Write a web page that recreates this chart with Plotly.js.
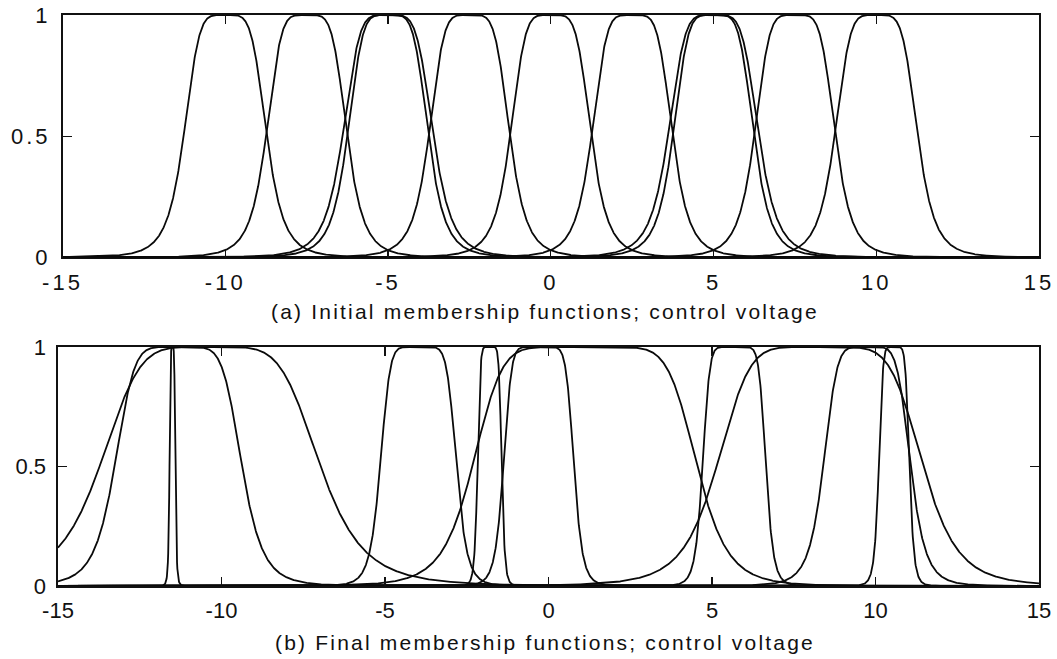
<!DOCTYPE html>
<html>
<head>
<meta charset="utf-8">
<script src="https://cdn.plot.ly/plotly-3.0.1.min.js"></script>
<style>
  html, body { margin: 0; padding: 0; background: #fff; }
  #chart { width: 1057px; height: 659px; }
  .xtick text, .ytick text { letter-spacing: 3px; }
  .annotation-text { letter-spacing: 2.2px; }
</style>
</head>
<body>
<div id="chart"></div>
<script>
// ---- data: generalized bell membership functions ----
// mu(x) = 1 / (1 + |(x - c) / a|^(2b))
const inputRange = [-15, 15];
const sampleCount = 3001;

// (a) initial membership functions
const initialCenters = [-10, -7.5, -5, -5, -2.5, 0, 2.5, 5, 5, 7.5, 10];
const initialWidths  = [1.28, 1.25, 1.25, 1.4, 1.25, 1.25, 1.25, 1.25, 1.4, 1.25, 1.28];
const initialSlopes  = [2.5, 2.5, 2.5, 2.5, 2.5, 2.5, 2.5, 2.5, 2.5, 2.5, 2.5];

// (b) final membership functions
const finalCenters = [-10.35, -11.32, -11.5, -3.98, -1.8, -0.3, 1.11, 5.68, 8.3, 9.74, 10.57];
const finalWidths  = [3.38, 1.95, 0.09, 1.17, 0.37, 1.08, 3.44, 0.97, 3.16, 1.34, 0.47];
const finalSlopes  = [2.6, 3.1, 2.5, 3.7, 4.0, 4.2, 3.7, 4.3, 3.0, 3.0, 3.5];

// axis ticks
const xTickValues = [-15, -10, -5, 0, 5, 10, 15];
const xTickLabels = ["-15", "-10", "-5", "0", "5", "10", "15"];
const yTickValues = [0, 0.5, 1];
const yTickLabels = ["0", "0.5", "1"];

const panelTitles = [
  "(a) Initial membership functions; control voltage",
  "(b) Final membership functions; control voltage"
];

// ---- build traces ----
const xs = [];
for (let i = 0; i < sampleCount; i++) {
  xs.push(inputRange[0] + (inputRange[1] - inputRange[0]) * i / (sampleCount - 1));
}
function gbell(c, a, b) {
  return xs.map(x => 1 / (1 + Math.pow(Math.abs((x - c) / a), 2 * b)));
}
const lineStyle = { color: '#0a0a0a', width: 1.8 };
const traces = [];
initialCenters.forEach((c, i) => {
  traces.push({ x: xs, y: gbell(c, initialWidths[i], initialSlopes[i]), type: 'scatter', mode: 'lines',
    line: lineStyle, xaxis: 'x', yaxis: 'y', hoverinfo: 'skip', showlegend: false });
});
finalCenters.forEach((c, i) => {
  traces.push({ x: xs, y: gbell(c, finalWidths[i], finalSlopes[i]), type: 'scatter', mode: 'lines',
    line: lineStyle, xaxis: 'x2', yaxis: 'y2', hoverinfo: 'skip', showlegend: false });
});

const tickFont = { family: 'Liberation Sans, Arial, sans-serif', size: 22, color: '#111' };
function xAxis(domain, anchor) {
  return {
    domain: domain, anchor: anchor, range: inputRange, tickmode: 'array',
    tickvals: xTickValues, ticktext: xTickLabels, ticks: 'inside', ticklen: 9, tickwidth: 1.3,
    tickcolor: '#111', mirror: 'ticks', showline: true, linecolor: '#111', linewidth: 1.6,
    showgrid: false, zeroline: false, tickfont: tickFont, ticklabelstandoff: 4, fixedrange: true
  };
}
function yAxis(domain, anchor) {
  return {
    domain: domain, anchor: anchor, range: [0, 1], tickmode: 'array',
    tickvals: yTickValues, ticktext: yTickLabels, ticks: 'inside', ticklen: 9, tickwidth: 1.3,
    tickcolor: '#111', mirror: 'ticks', showline: true, linecolor: '#111', linewidth: 1.6,
    showgrid: false, zeroline: false, tickfont: tickFont, ticklabelstandoff: 6, fixedrange: true
  };
}

const layout = {
  width: 1057, height: 659,
  margin: { l: 58, r: 18, t: 15, b: 73 },
  paper_bgcolor: '#fff', plot_bgcolor: '#fff',
  xaxis: xAxis([0.0046, 1], 'y'),
  yaxis: yAxis([0.5753, 1], 'x'),
  xaxis2: xAxis([0, 1], 'y2'),
  yaxis2: yAxis([0, 0.4186], 'x2'),
  annotations: [
    { text: panelTitles[0], xref: 'paper', yref: 'paper', x: 0.4964, y: 0.4799,
      xanchor: 'center', yanchor: 'middle', showarrow: false,
      font: { family: 'Liberation Sans, Arial, sans-serif', size: 21, color: '#111' } },
    { text: panelTitles[1], xref: 'paper', yref: 'paper', x: 0.4964, y: -0.0998,
      xanchor: 'center', yanchor: 'middle', showarrow: false,
      font: { family: 'Liberation Sans, Arial, sans-serif', size: 21, color: '#111' } }
  ]
};

Plotly.newPlot('chart', traces, layout, { staticPlot: true, displayModeBar: false });
</script>
</body>
</html>
